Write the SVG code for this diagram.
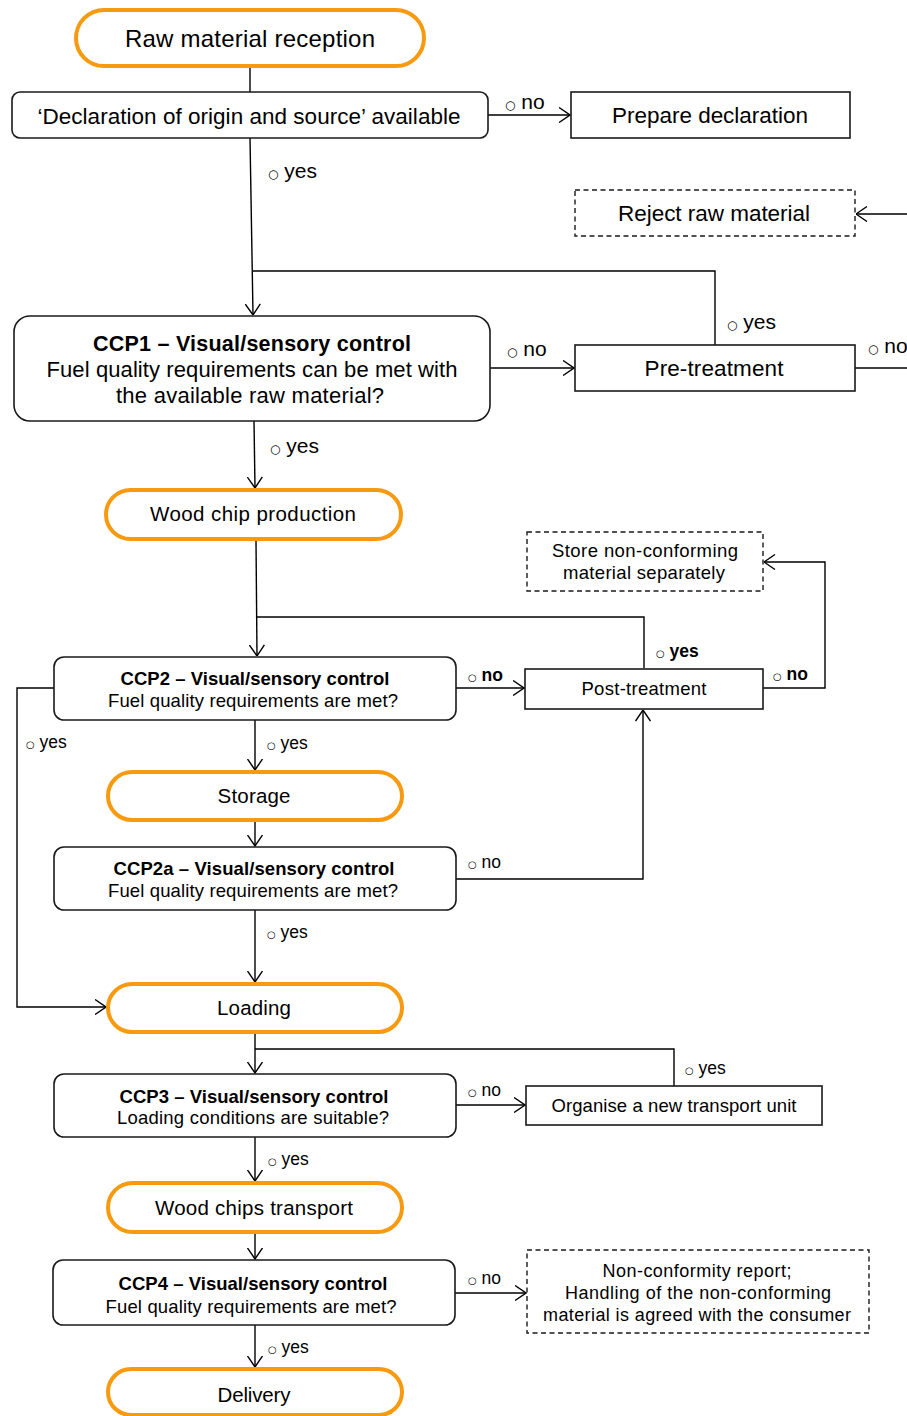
<svg xmlns="http://www.w3.org/2000/svg" width="907" height="1416" viewBox="0 0 907 1416">
<defs>
<style>
.t{font-family:"Liberation Sans",Arial,sans-serif;fill:#000;text-anchor:middle}
.l{font-family:"Liberation Sans",Arial,sans-serif;fill:#000}
.b{font-weight:bold}
.term{fill:#fff;stroke:#F79A10;stroke-width:4}
.dec{fill:#fff;stroke:#1a1a1a;stroke-width:1.6}
.box{fill:#fff;stroke:#1a1a1a;stroke-width:1.6}
.dash{fill:#fff;stroke:#1a1a1a;stroke-width:1.4;stroke-dasharray:5,3.5}
.c{fill:none;stroke:#000;stroke-width:1.4}
.o{font-family:"DejaVu Sans",sans-serif;font-weight:normal}
</style>
<marker id="arr" viewBox="0 0 12 16" refX="11.5" refY="8" markerWidth="12" markerHeight="16" markerUnits="userSpaceOnUse" orient="auto">
<path d="M0.5,0.5 L11.5,8 L0.5,15.5" fill="none" stroke="#000" stroke-width="1.4"/>
</marker>
</defs>

<g id="connectors">
<line class="c" x1="250" y1="68" x2="250" y2="92"/>
<line class="c" x1="488" y1="115" x2="570" y2="115" marker-end="url(#arr)"/>
<line class="c" x1="250" y1="138" x2="253" y2="315" marker-end="url(#arr)" stroke-width="1.8"/>
<polyline class="c" points="715,345 715,271 253,271"/>
<line class="c" x1="907" y1="214" x2="856" y2="214" marker-end="url(#arr)"/>
<line class="c" x1="490" y1="368" x2="574" y2="368" marker-end="url(#arr)"/>
<line class="c" x1="855" y1="368" x2="907" y2="368"/>
<line class="c" x1="254" y1="421" x2="255" y2="488" marker-end="url(#arr)"/>
<line class="c" x1="256" y1="541" x2="257" y2="656" marker-end="url(#arr)"/>
<polyline class="c" points="644,668 644,617 257,617"/>
<line class="c" x1="456" y1="688" x2="524" y2="688" marker-end="url(#arr)"/>
<polyline class="c" points="763,688 825,688 825,562 764,562" marker-end="url(#arr)"/>
<polyline class="c" points="54,688 17,688 17,1007 106,1007" marker-end="url(#arr)"/>
<line class="c" x1="255" y1="720" x2="255" y2="770" marker-end="url(#arr)"/>
<line class="c" x1="255" y1="822" x2="255" y2="846" marker-end="url(#arr)"/>
<polyline class="c" points="456,879 643,879 643,710" marker-end="url(#arr)"/>
<line class="c" x1="255" y1="910" x2="255" y2="982" marker-end="url(#arr)"/>
<line class="c" x1="255" y1="1034" x2="255" y2="1073" marker-end="url(#arr)"/>
<polyline class="c" points="674,1086 674,1049 255,1049"/>
<line class="c" x1="456" y1="1105" x2="525" y2="1105" marker-end="url(#arr)"/>
<line class="c" x1="255" y1="1137" x2="255" y2="1181" marker-end="url(#arr)"/>
<line class="c" x1="255" y1="1234" x2="255" y2="1259" marker-end="url(#arr)"/>
<line class="c" x1="455" y1="1293" x2="526" y2="1293" marker-end="url(#arr)"/>
<line class="c" x1="255" y1="1325" x2="255" y2="1367" marker-end="url(#arr)"/>
</g>

<g id="labels">
<text class="l" x="505" y="109" font-size="21"><tspan class="o" font-size="12">○</tspan> no</text>
<text class="l" x="268" y="178" font-size="21"><tspan class="o" font-size="12">○</tspan> yes</text>
<text class="l" x="727" y="329" font-size="21"><tspan class="o" font-size="12">○</tspan> yes</text>
<text class="l" x="507" y="356" font-size="21"><tspan class="o" font-size="12">○</tspan> no</text>
<text class="l" x="868" y="353" font-size="21"><tspan class="o" font-size="12">○</tspan> no</text>
<text class="l" x="270" y="453" font-size="21"><tspan class="o" font-size="12">○</tspan> yes</text>
<text class="l b" x="468" y="681" font-size="17.5"><tspan class="o" font-size="10">○</tspan> no</text>
<text class="l b" x="656" y="657" font-size="17.5"><tspan class="o" font-size="10">○</tspan> yes</text>
<text class="l b" x="773" y="680" font-size="17.5"><tspan class="o" font-size="10">○</tspan> no</text>
<text class="l" x="26" y="748" font-size="17.5"><tspan class="o" font-size="10">○</tspan> yes</text>
<text class="l" x="267" y="749" font-size="17.5"><tspan class="o" font-size="10">○</tspan> yes</text>
<text class="l" x="468" y="868" font-size="17.5"><tspan class="o" font-size="10">○</tspan> no</text>
<text class="l" x="267" y="938" font-size="17.5"><tspan class="o" font-size="10">○</tspan> yes</text>
<text class="l" x="685" y="1074" font-size="17.5"><tspan class="o" font-size="10">○</tspan> yes</text>
<text class="l" x="468" y="1096" font-size="17.5"><tspan class="o" font-size="10">○</tspan> no</text>
<text class="l" x="268" y="1165" font-size="17.5"><tspan class="o" font-size="10">○</tspan> yes</text>
<text class="l" x="468" y="1284" font-size="17.5"><tspan class="o" font-size="10">○</tspan> no</text>
<text class="l" x="268" y="1353" font-size="17.5"><tspan class="o" font-size="10">○</tspan> yes</text>
</g>

<g id="raw-material-reception">
<rect class="term" x="76" y="10" width="348" height="56" rx="28"/>
<text class="t" x="250" y="47" font-size="24" textLength="250">Raw material reception</text>
</g>

<g id="declaration-available">
<rect class="dec" x="12" y="92" width="476" height="46" rx="8"/>
<text class="t" x="249" y="124" font-size="22.5" textLength="423">‘Declaration of origin and source’ available</text>
</g>

<g id="prepare-declaration">
<rect class="box" x="571" y="92" width="279" height="46"/>
<text class="t" x="710" y="123" font-size="22.5" textLength="196">Prepare declaration</text>
</g>

<g id="reject-raw-material">
<rect class="dash" x="575" y="190" width="280" height="46"/>
<text class="t" x="714" y="221" font-size="22.5" textLength="192">Reject raw material</text>
</g>

<g id="ccp1">
<rect class="dec" x="14" y="316" width="476" height="105" rx="16"/>
<text class="t b" x="252" y="351" font-size="21.5" textLength="318">CCP1 – Visual/sensory control</text>
<text class="t" x="252" y="377" font-size="22" textLength="411">Fuel quality requirements can be met with</text>
<text class="t" x="250" y="403" font-size="22" textLength="268">the available raw material?</text>
</g>

<g id="pre-treatment">
<rect class="box" x="575" y="345" width="280" height="46"/>
<text class="t" x="714" y="376" font-size="22.5" textLength="139">Pre-treatment</text>
</g>

<g id="wood-chip-production">
<rect class="term" x="106" y="490" width="295" height="49" rx="24.5"/>
<text class="t" x="253" y="521" font-size="20.5" textLength="206">Wood chip production</text>
</g>

<g id="store-non-conforming">
<rect class="dash" x="527" y="532" width="236" height="59"/>
<text class="t" x="645" y="557" font-size="18.5" textLength="186">Store non-conforming</text>
<text class="t" x="644" y="579" font-size="18.5" textLength="162">material separately</text>
</g>

<g id="ccp2">
<rect class="dec" x="54" y="657" width="402" height="63" rx="10"/>
<text class="t b" x="255" y="685" font-size="18.5" textLength="269">CCP2 – Visual/sensory control</text>
<text class="t" x="253" y="707" font-size="18.5" textLength="290">Fuel quality requirements are met?</text>
</g>

<g id="post-treatment">
<rect class="box" x="525" y="669" width="238" height="40"/>
<text class="t" x="644" y="695" font-size="18.5" textLength="125">Post-treatment</text>
</g>

<g id="storage">
<rect class="term" x="108" y="772" width="294" height="48" rx="24"/>
<text class="t" x="254" y="803" font-size="20.5" textLength="73">Storage</text>
</g>

<g id="ccp2a">
<rect class="dec" x="54" y="847" width="402" height="63" rx="10"/>
<text class="t b" x="254" y="875" font-size="18.5" textLength="281">CCP2a – Visual/sensory control</text>
<text class="t" x="253" y="897" font-size="18.5" textLength="290">Fuel quality requirements are met?</text>
</g>

<g id="loading">
<rect class="term" x="108" y="984" width="294" height="48" rx="24"/>
<text class="t" x="254" y="1015" font-size="20.5" textLength="74">Loading</text>
</g>

<g id="ccp3">
<rect class="dec" x="54" y="1074" width="402" height="63" rx="10"/>
<text class="t b" x="254" y="1103" font-size="18.5" textLength="269">CCP3 – Visual/sensory control</text>
<text class="t" x="253" y="1124" font-size="18.5" textLength="272">Loading conditions are suitable?</text>
</g>

<g id="organise-transport-unit">
<rect class="box" x="526" y="1086" width="296" height="39"/>
<text class="t" x="674" y="1112" font-size="18.5" textLength="245">Organise a new transport unit</text>
</g>

<g id="wood-chips-transport">
<rect class="term" x="108" y="1183" width="294" height="49" rx="24.5"/>
<text class="t" x="254" y="1215" font-size="20.5" textLength="198">Wood chips transport</text>
</g>

<g id="ccp4">
<rect class="dec" x="53" y="1260" width="402" height="65" rx="10"/>
<text class="t b" x="253" y="1290" font-size="18.5" textLength="269">CCP4 – Visual/sensory control</text>
<text class="t" x="251" y="1313" font-size="18.5" textLength="291">Fuel quality requirements are met?</text>
</g>

<g id="non-conformity-report">
<rect class="dash" x="527" y="1250" width="342" height="83"/>
<text class="t" x="697" y="1277" font-size="18" textLength="189">Non-conformity report;</text>
<text class="t" x="698" y="1299" font-size="18" textLength="266">Handling of the non-conforming</text>
<text class="t" x="697" y="1321" font-size="18" textLength="308">material is agreed with the consumer</text>
</g>

<g id="delivery">
<rect class="term" x="108" y="1369" width="294" height="46" rx="23"/>
<text class="t" x="254" y="1402" font-size="20.5" textLength="73">Delivery</text>
</g>
</svg>
